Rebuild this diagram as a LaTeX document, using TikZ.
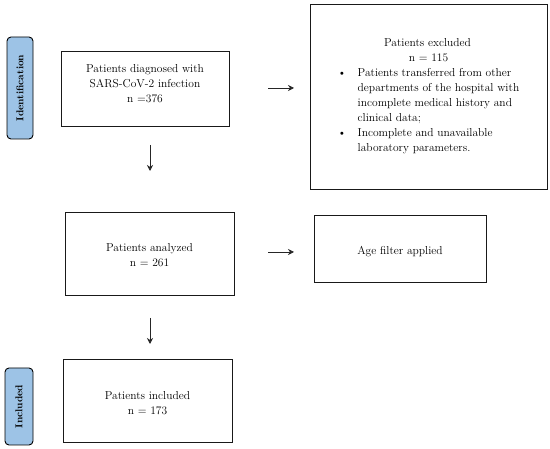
\documentclass[tikz,border=0pt]{standalone}
\usetikzlibrary{arrows.meta}
\definecolor{sideblue}{HTML}{9DC3E6}
\begin{document}
\begin{tikzpicture}[x=1pt,y=-1pt,
  box/.style={draw=black!90,line width=1pt,inner sep=0pt},
  txt/.style={inner sep=0pt,align=center,font=\fontsize{11.5}{15}\selectfont},
  sidelabel/.style={draw=black,line width=0.9pt,fill=sideblue,rounded corners=4pt,inner sep=0pt,
    font=\fontsize{10}{11}\selectfont\bfseries,rotate=90},
  arr/.style={-{Stealth[length=6pt,width=6pt]},line width=0.7pt,black!85}]
\useasboundingbox (0,0) rectangle (550,449);
% side labels
\node[sidelabel,minimum width=102pt,minimum height=26pt] (id) at (20,88) {Identification};
\node[sidelabel,minimum width=77pt,minimum height=28pt] (inc) at (19,406.5) {Included};
% boxes
\node[box,minimum width=168pt,minimum height=75pt] (diag) at (145,89.5) {};
\node[txt] (diagt) at (145,84) {Patients diagnosed with\\SARS-CoV-2 infection\\n =376};
\node[box,minimum width=237pt,minimum height=185pt] (excl) at (428.5,97.5) {};
\node[txt] (exclt) at (428.5,96) {%
  \begin{tabular}{@{}l@{}}
  \multicolumn{1}{@{}c@{}}{\hspace*{-2pt}Patients excluded}\\
  \multicolumn{1}{@{}c@{}}{n = 115}\\
  \makebox[20pt][l]{\textbullet}Patients transferred from other\\
  \makebox[20pt][l]{}departments of the hospital with\\
  \makebox[20pt][l]{}incomplete medical history and\\
  \makebox[20pt][l]{}clinical data;\\[0.5pt]
  \makebox[20pt][l]{\textbullet}Incomplete and unavailable\\
  \makebox[20pt][l]{}laboratory parameters.
  \end{tabular}};
\node[box,minimum width=169pt,minimum height=83pt] (anal) at (149.5,254.5) {};
\node[txt] (analt) at (149.5,255) {Patients analyzed\\n = 261};
\node[box,minimum width=172pt,minimum height=67pt] (age) at (400,249.5) {};
\node[txt] (aget) at (400,252) {Age filter applied};
\node[box,minimum width=169pt,minimum height=83pt] (incl) at (147.5,401.5) {};
\node[txt] (inclt) at (147.5,403) {Patients included\\n = 173};
% arrow endpoints
\coordinate (a1s) at (268,88);  \coordinate (a1e) at (294,88);
\coordinate (a2s) at (150,145); \coordinate (a2e) at (150,171);
\coordinate (a3s) at (268,252); \coordinate (a3e) at (294,252);
\coordinate (a4s) at (150,318); \coordinate (a4e) at (150,344);
\draw[arr] (a1s) -- (a1e);
\draw[arr] (a2s) -- (a2e);
\draw[arr] (a3s) -- (a3e);
\draw[arr] (a4s) -- (a4e);
\end{tikzpicture}
\end{document}
